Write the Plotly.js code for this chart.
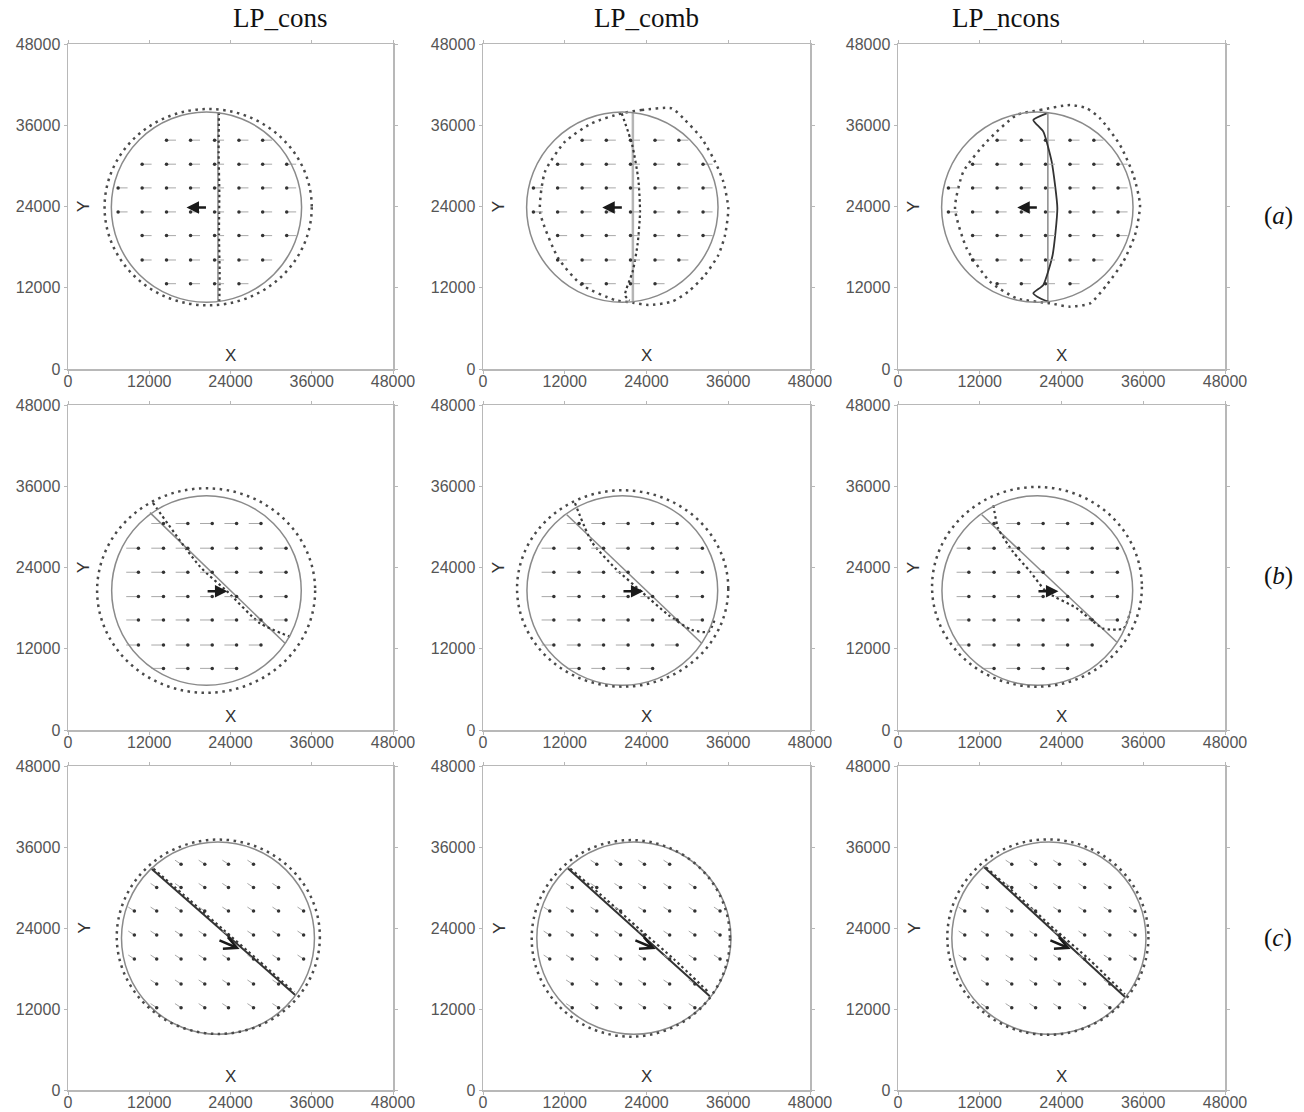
<!DOCTYPE html>
<html><head><meta charset="utf-8">
<script src="https://cdn.plot.ly/plotly-3.0.1.min.js"></script>
<style>html,body{margin:0;padding:0;background:#fff}</style>
</head><body><div id="chart" style="width:1304px;height:1112px"></div>
<script>
// ---------------- DATA ----------------
const columnTitles = ['LP_cons', 'LP_comb', 'LP_ncons'];
const rowLabels = ['(<i>a</i>)', '(<i>b</i>)', '(<i>c</i>)'];
const tickValues = [0, 12000, 24000, 36000, 48000];
const tickLabels = ['0', '12000', '24000', '36000', '48000'];

// initial body (solid circle) per row: centre and radius
const bodyCx = [20450, 20450, 22150];
const bodyCy = [23900, 20600, 22500];
const bodyR  = [14050, 14000, 14250];

// computed outline as ellipse (dotted), per panel row-major; null = traced outline below
const dotCx = [20700, null, null, 20400, 20500, 20400, 22200, 21700, 22000];
const dotCy = [23900, null, null, 20600, 20900, 21150, 22700, 22460, 22650];
const dotRx = [15300, null, null, 16100, 15500, 15400, 15000, 14550, 14760];
const dotRy = [14500, null, null, 15100, 14500, 14750, 14400, 14560, 14480];

// traced dotted outlines for LP_comb (a) and LP_ncons (a)
const outlineA2X = [20360, 23300, 27700, 29650, 32100, 34060, 35280, 36010, 35530, 34550, 32590, 30140, 27700, 24270, 22000, 19380, 14490, 11060, 8370, 9100, 12040, 15950, 20360];
const outlineA2Y = [37760, 38250, 38500, 36780, 34070, 30620, 27670, 23740, 19790, 16840, 13880, 11420, 9940, 9450, 9800, 10190, 12410, 16350, 23230, 29140, 33570, 36290, 37760];
const outlineA3X = [17430, 20850, 25250, 27700, 29650, 32590, 34550, 35530, 34790, 33070, 30640, 28190, 25250, 22310, 17430, 13500, 10080, 8370, 9590, 13020, 17430];
const outlineA3Y = [37520, 38250, 38990, 38500, 37030, 33080, 28650, 24220, 19790, 15850, 12410, 9700, 9210, 9700, 10440, 12900, 17820, 23740, 29140, 33570, 37520];

// initial interface (solid straight line) per panel
const ifaceX0 = [22150, 22000, 22000, 12100, 12300, 12300, 12240, 12400, 12500];
const ifaceY0 = [37850, 37900, 37800, 32100, 31800, 31800, 32870, 32900, 33150];
const ifaceX1 = [22150, 22000, 22000, 32050, 32100, 32100, 33600, 33300, 33400];
const ifaceY1 = [9950, 9900, 9900, 12800, 12800, 13000, 14050, 13900, 13700];

// computed interface (dotted) per panel
const cifX = [
  [22300, 22250, 22350, 22300, 22400, 22350],
  [20360, 21900, 22800, 23050, 22700, 22000, 20850, 21500],
  [21830, 19860, 21330, 22560, 23390, 22700, 21330, 19860, 20850, 22060],
  [12550, 19500, 23500, 28360, 32790],
  [13500, 15950, 19400, 23300, 27200, 30600, 33100, 34100],
  [14000, 14700, 16900, 19400, 21800, 26200, 30100, 33100, 34100],
  [12600, 18000, 23000, 28000, 33400],
  [12800, 18000, 23000, 28000, 33200],
  [12900, 18000, 23000, 28000, 33300]
];
const cifY = [
  [37900, 32000, 26000, 20000, 14000, 9850],
  [37760, 33100, 28000, 23200, 18500, 14500, 10900, 10100],
  [37760, 36780, 35050, 30620, 23740, 16840, 12410, 11180, 10440, 9940],
  [33530, 24120, 20470, 15760, 13780],
  [33500, 27800, 23900, 20400, 17000, 14800, 14500, 16500],
  [33200, 29800, 26300, 23400, 20400, 18000, 15000, 15000, 17500],
  [32800, 28100, 23700, 19300, 14500],
  [32800, 28300, 23800, 19400, 14400],
  [33000, 28400, 23800, 19400, 14200]
];
const cifSolid = [false, false, true, false, false, false, false, false, false];

// velocity-field grid nodes (arrow heads) per row and arrow vector (head - tail)
const gridXa = [7400, 10950, 14550, 18100, 21650, 25250, 28750, 32300];
const gridYa = [12600, 16100, 19700, 23200, 26750, 30250, 33800];
const gridXb = [6900, 10400, 14100, 17700, 21300, 24900, 28500, 32200];
const gridYb = [9100, 12550, 16250, 19700, 23300, 26850, 30500];
const gridXc = [9800, 13100, 16700, 20200, 23700, 27400, 31100, 34800];
const gridYc = [12200, 15700, 19400, 22950, 26500, 30000, 33450];
const vecU = [-1400, 1800, 900];
const vecV = [0, 0, -600];

// mean body velocity (big arrow) per row
const bigTailX = [20600, 20400, 22150];
const bigTailY = [23850, 20500, 22250];
const bigHeadX = [17500, 23550, 25350];
const bigHeadY = [23850, 20500, 20900];

// ---------------- FIGURE ----------------
const colDomains = [[68/1304, 393/1304], [483/1304, 810/1304], [898/1304, 1225/1304]];
const rowDomains = [[1-369/1112, 1-44/1112], [1-730/1112, 1-405/1112], [1-1090/1112, 1-766/1112]];
const gridsX = [gridXa, gridXb, gridXc];
const gridsY = [gridYa, gridYb, gridYc];

const traces = [];
const shapes = [];
const annotations = [];
const layout = {
  width: 1304, height: 1112,
  margin: {l: 0, r: 0, t: 0, b: 0},
  paper_bgcolor: '#fff', plot_bgcolor: '#fff',
  showlegend: false,
  font: {family: 'Liberation Sans, Arial, sans-serif'}
};

const axisCommon = {
  range: [0, 48000], tickvals: tickValues, ticktext: tickLabels,
  showline: true, linecolor: '#b8b8b8', linewidth: 1.5, mirror: 'ticks',
  ticks: 'outside', ticklen: 3, tickcolor: '#b8b8b8', tickwidth: 1,
  showgrid: false, zeroline: false, fixedrange: true,
  tickfont: {family: 'Liberation Sans, Arial, sans-serif', size: 16, color: '#555'}
};

for (let k = 0; k < 9; k++) {
  const row = Math.floor(k / 3), col = k % 3;
  const sfx = k === 0 ? '' : String(k + 1);
  const xr = 'x' + sfx, yr = 'y' + sfx;
  layout['xaxis' + sfx] = Object.assign({}, axisCommon, {domain: colDomains[col], anchor: yr, ticklabelstandoff: -6});
  layout['yaxis' + sfx] = Object.assign({}, axisCommon, {domain: rowDomains[row], anchor: xr});

  // solid initial body
  shapes.push({type: 'circle', xref: xr, yref: yr,
    x0: bodyCx[row] - bodyR[row], x1: bodyCx[row] + bodyR[row],
    y0: bodyCy[row] - bodyR[row], y1: bodyCy[row] + bodyR[row],
    line: {color: '#8a8a8a', width: 1.5}, layer: 'above'});

  // dotted computed outline
  if (dotCx[k] !== null) {
    shapes.push({type: 'circle', xref: xr, yref: yr,
      x0: dotCx[k] - dotRx[k], x1: dotCx[k] + dotRx[k],
      y0: dotCy[k] - dotRy[k], y1: dotCy[k] + dotRy[k],
      line: {color: '#4a4a4a', width: 2.5, dash: '2.5px,4.5px'}, layer: 'above'});
  } else {
    const ox = k === 1 ? outlineA2X : outlineA3X;
    const oy = k === 1 ? outlineA2Y : outlineA3Y;
    traces.push({type: 'scatter', mode: 'lines', x: ox, y: oy, xaxis: xr, yaxis: yr,
      line: {color: '#4a4a4a', width: 2.5, dash: '2.5px,4.5px', shape: 'spline', smoothing: 0.6},
      hoverinfo: 'skip'});
  }

  // initial interface
  traces.push({type: 'scatter', mode: 'lines', xaxis: xr, yaxis: yr,
    x: [ifaceX0[k], ifaceX1[k]], y: [ifaceY0[k], ifaceY1[k]],
    line: {color: row === 2 ? '#333' : (k === 1 ? '#b5b5b5' : '#8a8a8a'), width: row === 2 ? 2 : (k === 1 ? 2.5 : 1.5)},
    hoverinfo: 'skip'});

  // computed interface
  traces.push({type: 'scatter', mode: 'lines', xaxis: xr, yaxis: yr,
    x: cifX[k], y: cifY[k],
    line: cifSolid[k] ? {color: '#333', width: 1.8, shape: 'spline', smoothing: 0.5}
                      : {color: '#3a3a3a', width: 2.2, dash: '2.5px,3px', shape: 'spline', smoothing: 0.6},
    hoverinfo: 'skip'});

  // velocity field: grid nodes inside the body
  const tx = [], ty = [], hx = [], hy = [];
  gridsY[row].forEach(gy => {
    gridsX[row].forEach(gx => {
      const d = Math.hypot(gx - bodyCx[row], gy - bodyCy[row]);
      if (d < bodyR[row] - 500) {
        tx.push(gx - vecU[row], gx, null);
        ty.push(gy - vecV[row], gy, null);
        hx.push(gx); hy.push(gy);
      }
    });
  });
  traces.push({type: 'scatter', mode: 'lines', x: tx, y: ty, xaxis: xr, yaxis: yr,
    line: {color: '#a8a8a8', width: 1}, hoverinfo: 'skip'});
  traces.push({type: 'scatter', mode: 'markers', x: hx, y: hy, xaxis: xr, yaxis: yr,
    marker: {color: '#333', size: 3.5}, hoverinfo: 'skip'});

  // big arrow
  annotations.push({xref: xr, yref: yr, axref: xr, ayref: yr,
    x: bigHeadX[row], y: bigHeadY[row], ax: bigTailX[row], ay: bigTailY[row],
    text: '', showarrow: true, arrowhead: row === 2 ? 5 : 2, arrowsize: 1, arrowwidth: 2.5,
    arrowcolor: '#1a1a1a', standoff: 0, startstandoff: 0});

  // in-panel axis letters
  annotations.push({xref: xr, yref: yr, x: 24000, y: 2000, text: 'X', showarrow: false,
    font: {family: 'Liberation Sans, Arial, sans-serif', size: 17, color: '#333'}});
  annotations.push({xref: xr, yref: yr, x: 2300, y: 24000, text: 'Y', showarrow: false, textangle: -90,
    font: {family: 'Liberation Sans, Arial, sans-serif', size: 17, color: '#333'}});
}

// column titles
columnTitles.forEach((t, c) => {
  annotations.push({xref: 'paper', yref: 'paper', x: (colDomains[c][0] + colDomains[c][1]) / 2,
    y: 1 - 18/1112, yanchor: 'middle', text: t, showarrow: false,
    font: {family: 'Liberation Serif, Times New Roman, serif', size: 27, color: '#111'}});
});
// row labels
const rowLabelY = [216, 576, 938];
rowLabels.forEach((t, r) => {
  annotations.push({xref: 'paper', yref: 'paper', x: 1278/1304, y: 1 - rowLabelY[r]/1112,
    xanchor: 'center', yanchor: 'middle', text: t, showarrow: false,
    font: {family: 'Liberation Serif, Times New Roman, serif', size: 25, color: '#111'}});
});

layout.shapes = shapes;
layout.annotations = annotations;
Plotly.newPlot('chart', traces, layout, {staticPlot: true, displayModeBar: false});
</script>
</body></html>
